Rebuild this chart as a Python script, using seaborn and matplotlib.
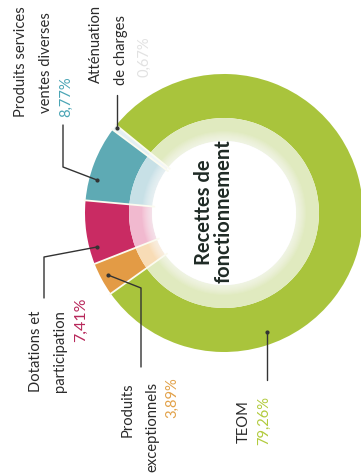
import matplotlib
matplotlib.use("Agg")
import matplotlib.pyplot as plt
import seaborn as sns
import numpy as np
from matplotlib.patches import Circle

# Budget shares (%) of operating revenue
categories = ["Atténuation de charges", "Produits services ventes diverses",
              "Dotations et participation", "Produits exceptionnels", "TEOM"]
values = [0.67, 8.77, 7.41, 3.89, 79.26]
value_labels = ["0,67%", "8,77%", "7,41%", "3,89%", "79,26%"]

outer_colors = ["#e4eff3", "#5eaab4", "#c92b63", "#e39b45", "#a9c43c"]
inner_colors = ["#eef5f8", "#c7e0e6", "#f1b9cf", "#f8dcb6", "#e0eabf"]
text_colors = ["#e2e2e2", "#4aa5b5", "#b8285b", "#e2a24a", "#b2cb3e"]

sns.set_theme(style="white")
plt.rcParams["font.family"] = ["Lato", "DejaVu Sans"]

W, H = 361, 475
fig = plt.figure(figsize=(W / 100, H / 100), dpi=100)
ax = fig.add_axes([0, 0, 1, 1])


def Y(y):
    # convert a top-down pixel row into the axes' bottom-up coordinate
    return H - y


cx, cy = 224, Y(213)
R_out, R_mid, R_in = 139, 95, 72
start = 140.8

ax.pie(values, colors=outer_colors, startangle=start, counterclock=True,
       radius=R_out, center=(cx, cy), frame=True,
       wedgeprops=dict(width=R_out - R_mid, linewidth=0))
ax.pie(values, colors=inner_colors, startangle=start, counterclock=True,
       radius=R_mid, center=(cx, cy), frame=True,
       wedgeprops=dict(width=R_mid - R_in, linewidth=0))

# thin pale separators between slices
bounds = start + 360 * np.cumsum([0] + values[:-1]) / sum(values)
for a in np.deg2rad(bounds):
    ax.plot([cx + (R_in - 2) * np.cos(a), cx + (R_out + 1) * np.cos(a)],
            [cy + (R_in - 2) * np.sin(a), cy + (R_out + 1) * np.sin(a)],
            color="#fbfbf0", lw=1.3)

# soft white centre fading into the inner ring
for r in np.linspace(R_in + 10, R_in + 1, 10):
    ax.add_patch(Circle((cx, cy), r, facecolor="white", edgecolor="none", alpha=0.09))
ax.add_patch(Circle((cx, cy), R_in, facecolor="white", edgecolor="none"))

ax.set_xlim(0, W)
ax.set_ylim(0, H)
ax.set_aspect("equal")
ax.axis("off")

dark = "#2b2b2b"
fs = 10.6

# centre title
ax.text(204, Y(212), "Recettes de", rotation=90, ha="center", va="center",
        fontsize=14.5, fontweight="bold", color="#1f2a25")
ax.text(224, Y(211), "fonctionnement", rotation=90, ha="center", va="center",
        fontsize=14.5, fontweight="bold", color="#1f2a25")

# category names and values (text reads bottom-to-top)
ax.text(21, Y(117), "Produits services", rotation=90, ha="center", va="bottom",
        fontsize=fs, color=dark)
ax.text(46, Y(113), "ventes diverses", rotation=90, ha="center", va="bottom",
        fontsize=fs, color=dark)
ax.text(66, Y(117), value_labels[1], rotation=90, ha="center", va="bottom",
        fontsize=fs, color=text_colors[1])

ax.text(96, Y(83), "Atténuation", rotation=90, ha="center", va="bottom",
        fontsize=fs, color=dark)
ax.text(121, Y(85), "de charges", rotation=90, ha="center", va="bottom",
        fontsize=fs, color=dark)
ax.text(144, Y(77), value_labels[0], rotation=90, ha="center", va="bottom",
        fontsize=fs, color=text_colors[0])

ax.text(36, Y(392), "Dotations et", rotation=90, ha="center", va="bottom",
        fontsize=fs, color=dark)
ax.text(60, Y(392), "participation", rotation=90, ha="center", va="bottom",
        fontsize=fs, color=dark)
ax.text(81, Y(342), value_labels[2], rotation=90, ha="center", va="bottom",
        fontsize=11.5, color=text_colors[2])

ax.text(128, Y(437), "Produits", rotation=90, ha="center", va="bottom",
        fontsize=fs, color=dark)
ax.text(152, Y(382), "exceptionnels", rotation=90, ha="center", va="top",
        fontsize=fs, color=dark)
ax.text(172, Y(418), value_labels[3], rotation=90, ha="center", va="bottom",
        fontsize=fs, color=text_colors[3])

ax.text(244, Y(443), "TEOM", rotation=90, ha="center", va="bottom",
        fontsize=fs, color=dark)
ax.text(264, Y(445), value_labels[4], rotation=90, ha="center", va="bottom",
        fontsize=fs, color=text_colors[4])

# leader lines
lc = "#333333"
lines = [
    ([63, 63, 97], [125, 167, 180]),
    ([117, 117], [95, 128]),
    ([44, 44, 97], [298, 257, 247]),
    ([141, 141, 108], [367, 288, 275]),
    ([267, 267], [380, 332]),
]
for xs, ys in lines:
    ax.plot(xs, [Y(v) for v in ys], color=lc, lw=1.0, solid_capstyle="round")
    ax.plot(xs[-1], Y(ys[-1]), "o", color=lc, ms=2)

fig.savefig("out.png", dpi=100, facecolor="white")
